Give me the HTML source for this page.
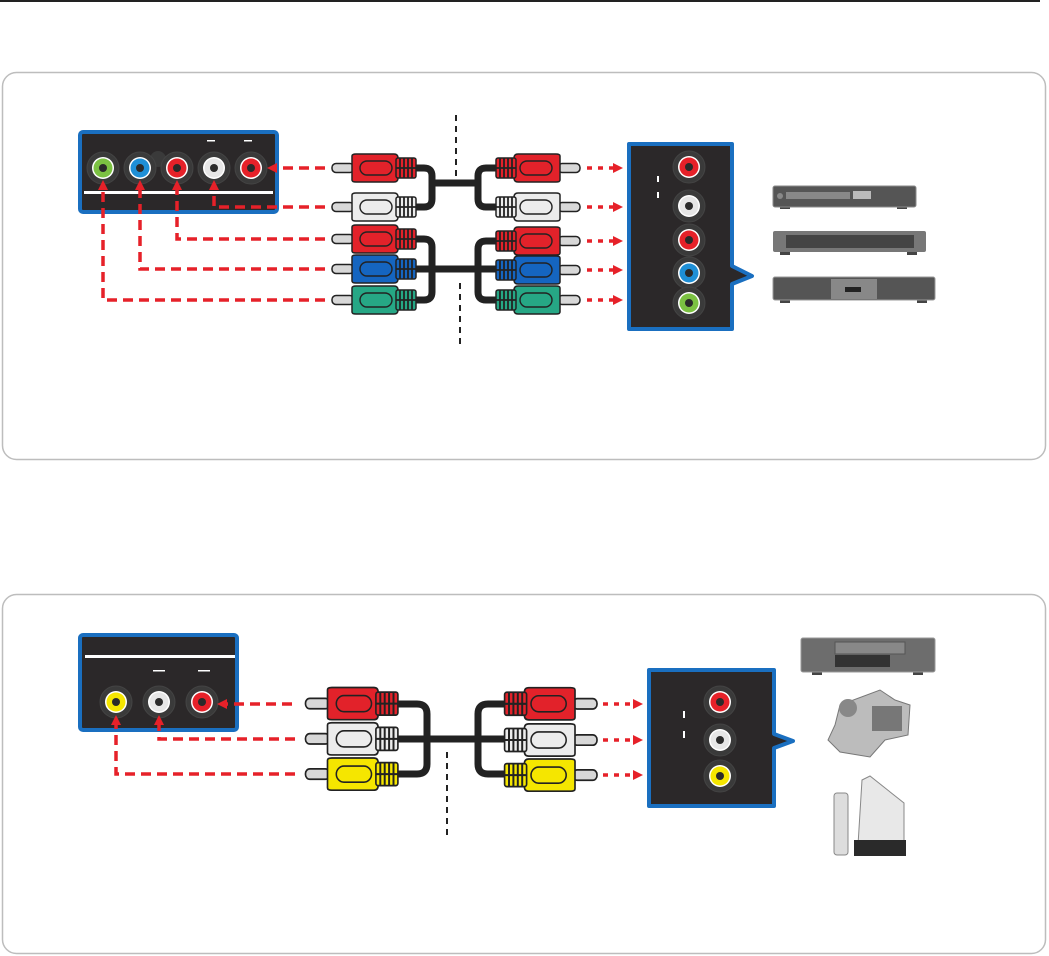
<!DOCTYPE html>
<html><head><style>html,body{margin:0;padding:0;background:#fff}svg{display:block}</style></head>
<body>
<svg width="1049" height="956" viewBox="0 0 1049 956" xmlns="http://www.w3.org/2000/svg" font-family="Liberation Sans, sans-serif">
<defs>
<symbol id="plug" overflow="visible">
 <rect x="0" y="-4.5" width="22" height="9" rx="4" fill="#d8d8d8" stroke="#222" stroke-width="1.5"/>
 <path d="M20,-12 Q20,-14 24,-14 H62 Q66,-14 66,-10 V10 Q66,14 62,14 H24 Q20,14 20,12 Z" fill="currentColor" stroke="#222" stroke-width="1.5"/>
 <rect x="28" y="-7" width="32" height="14" rx="7" fill="none" stroke="#222" stroke-width="1.4"/>
 <rect x="64" y="-10" width="20" height="20" rx="2" fill="currentColor" stroke="#222" stroke-width="1.5"/>
 <path d="M68,-10V10M72,-10V10M76,-10V10M80,-10V10M64,0H84" stroke="#222" stroke-width="1.8"/>
</symbol>
<symbol id="jack" overflow="visible">
 <circle r="16" fill="#3a3a3a" stroke="#444" stroke-width="1"/>
 <circle r="11" fill="#fff"/>
 <circle r="9.5" fill="currentColor"/>
 <circle r="4" fill="#2a2a2a"/>
</symbol>
<marker id="arr" markerWidth="10" markerHeight="10" refX="5" refY="5" orient="auto" markerUnits="userSpaceOnUse" viewBox="0 0 10 10">
 <path d="M0,0 L10,5 L0,10 Z" fill="#e62129"/>
</marker>
</defs>

<rect x="0" y="0" width="1040" height="2" fill="#222"/>

<rect x="2.5" y="72.5" width="1043" height="387" rx="14" fill="#fff" stroke="#bdbdbd" stroke-width="1.5"/>
<rect x="2.5" y="594.5" width="1043" height="359" rx="14" fill="#fff" stroke="#bdbdbd" stroke-width="1.5"/>

<!-- ===== TOP ===== -->
<rect x="80" y="132" width="197" height="80" rx="3" fill="#2b2829" stroke="#1a6fc0" stroke-width="4"/>
<rect x="84" y="191" width="189" height="3" fill="#fff"/>
<circle cx="158" cy="159" r="8" fill="#3a3a3a"/>
<rect x="207" y="140" width="8" height="1.5" fill="#fff"/>
<rect x="244" y="140" width="8" height="1.5" fill="#fff"/>
<use href="#jack" x="103" y="168" color="#7bc142"/>
<use href="#jack" x="140" y="168" color="#1e8fd6"/>
<use href="#jack" x="177" y="168" color="#e62129"/>
<use href="#jack" x="214" y="168" color="#e6e6e6"/>
<use href="#jack" x="251" y="168" color="#e62129"/>

<g fill="none" stroke="#e62129" stroke-width="3.5" stroke-dasharray="10 6">
 <path d="M325,168 H272" marker-end="url(#arr)"/>
 <path d="M325,207 H214 V185" marker-end="url(#arr)"/>
 <path d="M325,239 H177 V185" marker-end="url(#arr)"/>
 <path d="M325,269 H140 V185" marker-end="url(#arr)"/>
 <path d="M325,300 H103 V185" marker-end="url(#arr)"/>
 <path d="M587,168 H618" stroke-dasharray="5 6" marker-end="url(#arr)"/>
 <path d="M587,207 H618" stroke-dasharray="5 6" marker-end="url(#arr)"/>
 <path d="M587,241 H618" stroke-dasharray="5 6" marker-end="url(#arr)"/>
 <path d="M587,270 H618" stroke-dasharray="5 6" marker-end="url(#arr)"/>
 <path d="M587,300 H618" stroke-dasharray="5 6" marker-end="url(#arr)"/>
</g>

<g fill="none" stroke="#222" stroke-width="7" stroke-linejoin="round">
 <path d="M414,168 H424 Q432,168 432,176 V199 Q432,207 424,207 H414"/>
 <path d="M432,183 H478"/>
 <path d="M496,168 H486 Q478,168 478,176 V199 Q478,207 486,207 H496"/>
 <path d="M414,239 H424 Q432,239 432,247 V292 Q432,300 424,300 H414"/>
 <path d="M414,269 H496"/>
 <path d="M496,241 H486 Q478,241 478,249 V292 Q478,300 486,300 H496"/>
</g>
<use href="#plug" x="332" y="168" color="#e2222a"/>
<use href="#plug" x="332" y="207" color="#ececec"/>
<use href="#plug" x="332" y="239" color="#e2222a"/>
<use href="#plug" x="332" y="269" color="#1565c0"/>
<use href="#plug" x="332" y="300" color="#26a785"/>
<g transform="translate(580,0) scale(-1,1)">
 <use href="#plug" x="0" y="168" color="#e2222a"/>
 <use href="#plug" x="0" y="207" color="#ececec"/>
 <use href="#plug" x="0" y="241" color="#e2222a"/>
 <use href="#plug" x="0" y="270" color="#1565c0"/>
 <use href="#plug" x="0" y="300" color="#26a785"/>
</g>
<path d="M456,115 V180 M460,283 V345" stroke="#222" stroke-width="2" stroke-dasharray="6 5"/>

<path d="M629,144 H732 V266 L752,276 L732,284 V329 H629 Z" fill="#2b2829" stroke="#1a6fc0" stroke-width="4" stroke-linejoin="round"/>
<rect x="657" y="176" width="2" height="6" fill="#fff"/>
<rect x="657" y="192" width="2" height="6" fill="#fff"/>
<use href="#jack" x="689" y="167" color="#e62129"/>
<use href="#jack" x="689" y="206" color="#e6e6e6"/>
<use href="#jack" x="689" y="240" color="#e62129"/>
<use href="#jack" x="689" y="273" color="#1e8fd6"/>
<use href="#jack" x="689" y="303" color="#7bc142"/>

<!-- devices top -->
<rect x="780" y="205" width="10" height="4" fill="#444"/><rect x="897" y="205" width="10" height="4" fill="#444"/>
<rect x="773" y="186" width="143" height="21" rx="2" fill="#555" stroke="#8a8a8a"/>
<circle cx="780" cy="196" r="3" fill="#888"/>
<rect x="786" y="192" width="64" height="7" fill="#888"/>
<rect x="853" y="191" width="18" height="8" fill="#bbb"/>
<rect x="780" y="251" width="10" height="4" fill="#444"/><rect x="907" y="251" width="10" height="4" fill="#444"/>
<rect x="773" y="231" width="153" height="21" rx="2" fill="#777"/>
<rect x="786" y="235" width="128" height="13" fill="#444"/>
<rect x="780" y="299" width="10" height="4" fill="#444"/><rect x="917" y="299" width="10" height="4" fill="#444"/>
<rect x="773" y="277" width="162" height="23" rx="2" fill="#555" stroke="#999"/>
<rect x="831" y="279" width="46" height="20" fill="#888"/>
<rect x="845" y="287" width="16" height="5" fill="#222"/>

<!-- ===== BOTTOM ===== -->
<rect x="80" y="635" width="157" height="95" rx="3" fill="#2b2829" stroke="#1a6fc0" stroke-width="4"/>
<rect x="85" y="655" width="150" height="3" fill="#fff"/>
<rect x="153" y="670" width="12" height="1.5" fill="#fff"/>
<rect x="198" y="670" width="12" height="1.5" fill="#fff"/>
<use href="#jack" x="116" y="702" color="#f5e600"/>
<use href="#jack" x="159" y="702" color="#e6e6e6"/>
<use href="#jack" x="202" y="702" color="#e62129"/>

<g fill="none" stroke="#e62129" stroke-width="3.5" stroke-dasharray="10 6">
 <path d="M292,704 H222" marker-end="url(#arr)"/>
 <path d="M295,739 H159 V720" marker-end="url(#arr)"/>
 <path d="M295,774 H116 V720" marker-end="url(#arr)"/>
 <path d="M603,704 H638" stroke-dasharray="5 6" marker-end="url(#arr)"/>
 <path d="M603,740 H638" stroke-dasharray="5 6" marker-end="url(#arr)"/>
 <path d="M603,775 H638" stroke-dasharray="5 6" marker-end="url(#arr)"/>
</g>
<g fill="none" stroke="#222" stroke-width="7" stroke-linejoin="round">
 <path d="M395,704 H417 Q427,704 427,714 V764 Q427,774 417,774 H395"/>
 <path d="M395,739 H510"/>
 <path d="M510,704 H488 Q478,704 478,714 V764 Q478,774 488,774 H510"/>
</g>
<use href="#plug" x="305" y="704" color="#e2222a" transform="translate(-30,-106) scale(1.1,1.15)"/>
<use href="#plug" x="305" y="739" color="#ececec" transform="translate(-30,-111) scale(1.1,1.15)"/>
<use href="#plug" x="305" y="774" color="#f5e600" transform="translate(-30,-116) scale(1.1,1.15)"/>
<g transform="translate(597,0) scale(-1.1,1.15)">
 <use href="#plug" x="0" y="612" color="#e2222a"/>
 <use href="#plug" x="0" y="643.5" color="#ececec"/>
 <use href="#plug" x="0" y="674" color="#f5e600"/>
</g>
<path d="M447,752 V840" stroke="#222" stroke-width="2" stroke-dasharray="6 5"/>

<path d="M649,670 H774 V734 L793,741 L774,748 V806 H649 Z" fill="#2b2829" stroke="#1a6fc0" stroke-width="4" stroke-linejoin="round"/>
<rect x="683" y="711" width="2" height="7" fill="#fff"/>
<rect x="683" y="731" width="2" height="7" fill="#fff"/>
<use href="#jack" x="720" y="702" color="#e62129"/>
<use href="#jack" x="720" y="740" color="#e6e6e6"/>
<use href="#jack" x="720" y="776" color="#f5e600"/>

<!-- devices bottom -->
<rect x="812" y="671" width="10" height="4" fill="#444"/><rect x="913" y="671" width="10" height="4" fill="#444"/>
<rect x="801" y="638" width="134" height="34" rx="2" fill="#6d6d6d" stroke="#999"/>
<rect x="835" y="642" width="70" height="12" fill="#888" stroke="#555"/>
<rect x="835" y="655" width="55" height="12" fill="#333"/>
<path d="M840,705 L880,690 L895,700 L910,705 L908,735 L885,740 L870,757 L840,752 L828,740 L835,725 Z" fill="#bcbcbc" stroke="#777"/>
<rect x="872" y="706" width="30" height="25" fill="#777"/>
<circle cx="848" cy="708" r="9" fill="#888"/>
<rect x="834" y="793" width="14" height="62" rx="3" fill="#ddd" stroke="#888"/>
<path d="M862,780 L870,776 L904,803 L904,845 L858,845 Z" fill="#e8e8e8" stroke="#888"/>
<rect x="854" y="840" width="52" height="16" fill="#2a2a2a"/>
</svg>
</body></html>
